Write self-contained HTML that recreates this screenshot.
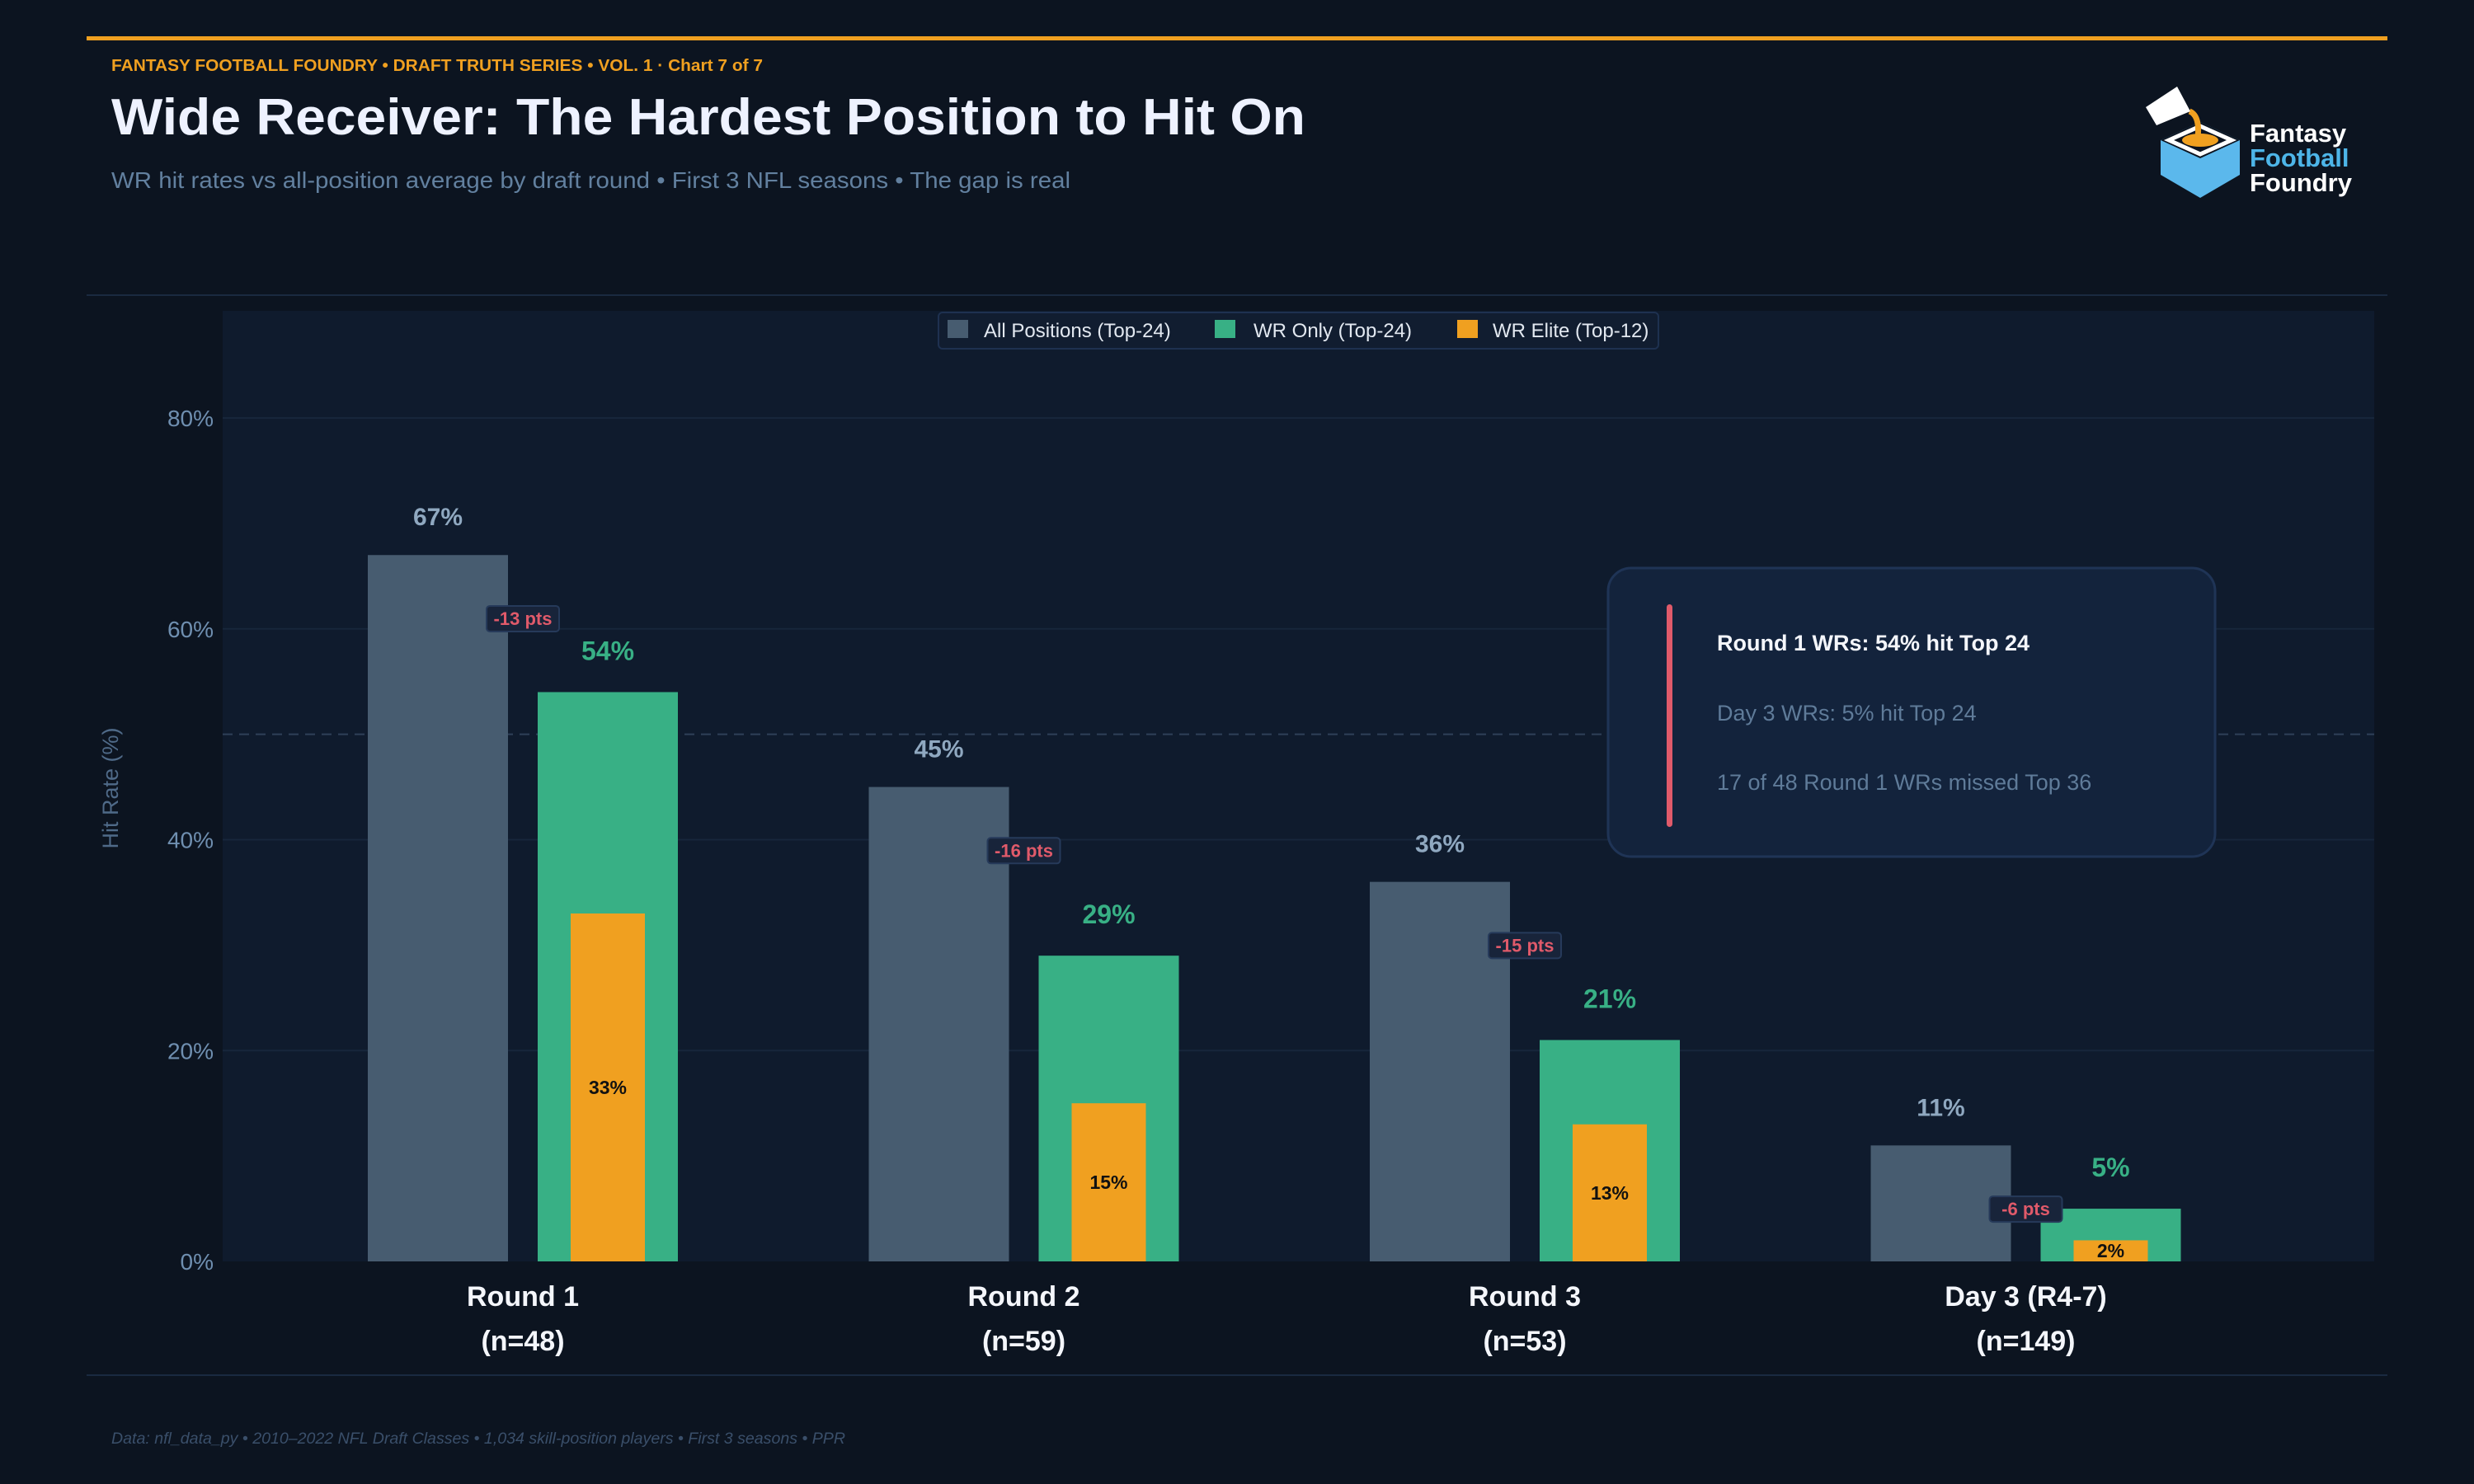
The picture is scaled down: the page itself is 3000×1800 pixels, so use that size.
<!DOCTYPE html>
<html><head><meta charset="utf-8"><style>
html,body{margin:0;padding:0;background:#0c1420;}
svg{display:block;font-family:"Liberation Sans",sans-serif;}
</style></head><body>
<svg id="chart" width="3000" height="1800" viewBox="0 0 3000 1800" xmlns="http://www.w3.org/2000/svg">
<rect x="0" y="0" width="3000" height="1800" fill="#0c1420"/>
<rect x="105" y="44" width="2790" height="5" fill="#f0a020"/>
<text x="135" y="86" font-size="20" font-weight="bold" fill="#f0a020" textLength="790" lengthAdjust="spacingAndGlyphs">FANTASY FOOTBALL FOUNDRY  •  DRAFT TRUTH SERIES  •  VOL. 1  ·  Chart 7 of 7</text>
<text x="135" y="163" font-size="62" font-weight="bold" fill="#eef2ff" textLength="1448" lengthAdjust="spacingAndGlyphs">Wide Receiver: The Hardest Position to Hit On</text>
<text x="135" y="228" font-size="28" fill="#62809f" textLength="1163" lengthAdjust="spacingAndGlyphs">WR hit rates vs all-position average by draft round  •  First 3 NFL seasons  •  The gap is real</text>

<g>
<polygon points="2620,170 2668,148 2716,170 2716,212 2668,240 2620,212" fill="#5bb8ec"/>
<polygon points="2620,170 2668,148 2716,170 2668,192" fill="#0c1420"/>
<polygon points="2630,170 2668,153 2706,170 2668,187" fill="none" stroke="#ffffff" stroke-width="5"/>
<ellipse cx="2668" cy="170" rx="22" ry="8" fill="#f0a020"/>
<path d="M2655,135 Q2668,140 2665,168" stroke="#f0a020" stroke-width="7" fill="none"/>
<polygon points="2602,130 2640,105 2656,135 2615,152" fill="#ffffff"/>
<text x="2728" y="172" font-size="31" font-weight="bold" fill="#ffffff">Fantasy</text>
<text x="2728" y="202" font-size="31" font-weight="bold" fill="#4db5e8">Football</text>
<text x="2728" y="232" font-size="31" font-weight="bold" fill="#ffffff">Foundry</text>
</g>

<rect x="105" y="357" width="2790" height="2" fill="#1a2a40"/>
<rect x="270" y="377" width="2609" height="1153" fill="#0f1b2d"/>
<g id="grid"></g>
<g id="bars"></g>
<g id="labels"></g>

<g>
<rect x="1138" y="379" width="873" height="44" rx="5" fill="#111d30" stroke="#1e3150" stroke-width="2"/>
<rect x="1149" y="388" width="25" height="22" fill="#475c70"/>
<text x="1193" y="409" font-size="24" fill="#e2e8f0">All Positions (Top-24)</text>
<rect x="1473" y="388" width="25" height="22" fill="#38b085"/>
<text x="1520" y="409" font-size="24" fill="#e2e8f0">WR Only (Top-24)</text>
<rect x="1767" y="388" width="25" height="22" fill="#f0a020"/>
<text x="1810" y="409" font-size="24" fill="#e2e8f0">WR Elite (Top-12)</text>
</g>

<g>
<rect x="1950" y="689" width="736" height="350" rx="28" fill="#13233c" stroke="#1f3456" stroke-width="3"/>
<rect x="2021" y="733" width="7" height="270" rx="3.5" fill="#e05a6a"/>
<text x="2082" y="789" font-size="27" font-weight="bold" fill="#f4f6fb">Round 1 WRs: 54% hit Top 24</text>
<text x="2082" y="874" font-size="27" fill="#5f7b99">Day 3 WRs: 5% hit Top 24</text>
<text x="2082" y="958" font-size="27" fill="#5f7b99">17 of 48 Round 1 WRs missed Top 36</text>
</g>

<text transform="translate(143,956) rotate(-90)" text-anchor="middle" font-size="27" fill="#4f6a88">Hit Rate (%)</text>
<rect x="105" y="1667" width="2790" height="2" fill="#1a2a40"/>
<text x="135" y="1751" font-size="19" font-style="italic" fill="#3a4f6a" textLength="890" lengthAdjust="spacingAndGlyphs">Data: nfl_data_py  •  2010–2022 NFL Draft Classes  •  1,034 skill-position players  •  First 3 seasons  •  PPR</text>
</svg>
<script>
const categories = ["Round 1", "Round 2", "Round 3", "Day 3 (R4-7)"];
const sampleSizes = [48, 59, 53, 149];
const allPositions = [67, 45, 36, 11];
const wrOnly = [54, 29, 21, 5];
const wrElite = [33, 15, 13, 2];
const yTicks = [0, 20, 40, 60, 80];

const NS = "http://www.w3.org/2000/svg";
function yScale(v){ return 1530 - v * 12.7875; }
function xCenter(i){ return 634 + i * 607.5; }
const BW = 170;
function mk(parent, tag, attrs, text){
  const e = document.createElementNS(NS, tag);
  for (const k in attrs) e.setAttribute(k, attrs[k]);
  if (text !== undefined) e.textContent = text;
  parent.appendChild(e);
  return e;
}
const grid = document.getElementById('grid');
const bars = document.getElementById('bars');
const labels = document.getElementById('labels');

yTicks.forEach(t => {
  if (t > 0) {
    const l = mk(grid, 'line', {x1:270, x2:2879, y1:yScale(t), y2:yScale(t), stroke:'#17263b', 'stroke-width':2});
    
    
  }
  const tx = mk(grid, 'text', {x:259, y:yScale(t)+10, 'text-anchor':'end', 'font-size':28, fill:'#6f8fb0'}, t + '%');
  
  
});
const ref = mk(grid, 'line', {x1:270, x2:2879, y1:yScale(50), y2:yScale(50), stroke:'#2f4058', 'stroke-width':2, 'stroke-dasharray':'12 8'});



categories.forEach((c, i) => {
  const cx = xCenter(i);
  const gx = cx - 188, wx = cx + 18;
  const g = mk(bars, 'rect', {x:gx, y:yScale(allPositions[i]), width:BW, height:yScale(0)-yScale(allPositions[i]), fill:'#475c70'});
  
  
  const w = mk(bars, 'rect', {x:wx, y:yScale(wrOnly[i]), width:BW, height:yScale(0)-yScale(wrOnly[i]), fill:'#38b085'});
  
  
  const e = mk(bars, 'rect', {x:wx+40, y:yScale(wrElite[i]), width:90, height:yScale(0)-yScale(wrElite[i]), fill:'#f0a020'});
  
  

  const l1 = mk(labels, 'text', {x:gx+BW/2, y:yScale(allPositions[i])-36, 'text-anchor':'middle', 'font-size':30, 'font-weight':'bold', fill:'#8fa8c0'}, allPositions[i] + '%');
  
  
  const l2 = mk(labels, 'text', {x:wx+BW/2, y:yScale(wrOnly[i])-39, 'text-anchor':'middle', 'font-size':32, 'font-weight':'bold', fill:'#38b085'}, wrOnly[i] + '%');
  
  
  const ey = (yScale(wrElite[i]) + yScale(0)) / 2;
  const l3 = mk(labels, 'text', {x:wx+BW/2, y:ey+8, 'text-anchor':'middle', 'font-size':23, 'font-weight':'bold', fill:'#111111'}, wrElite[i] + '%');
  
  

  const gap = wrOnly[i] - allPositions[i];
  const by = yScale(allPositions[i] - 6);
  const bg = mk(labels, 'rect', {x:cx-44, y:by-15, width:88, height:31, rx:4, fill:'#18243a', stroke:'#263a5a', 'stroke-width':2});
  
  
  const bt = mk(labels, 'text', {x:cx, y:by+8, 'text-anchor':'middle', 'font-size':22, 'font-weight':'bold', fill:'#e05a6a'}, gap + ' pts');
  
  

  const c1 = mk(labels, 'text', {x:cx, y:1584, 'text-anchor':'middle', 'font-size':34, 'font-weight':'bold', fill:'#f4f6fb'}, c);
  
  
  const c2 = mk(labels, 'text', {x:cx, y:1638, 'text-anchor':'middle', 'font-size':34, 'font-weight':'bold', fill:'#f4f6fb'}, '(n=' + sampleSizes[i] + ')');
  
  
});
</script>
</body></html>
